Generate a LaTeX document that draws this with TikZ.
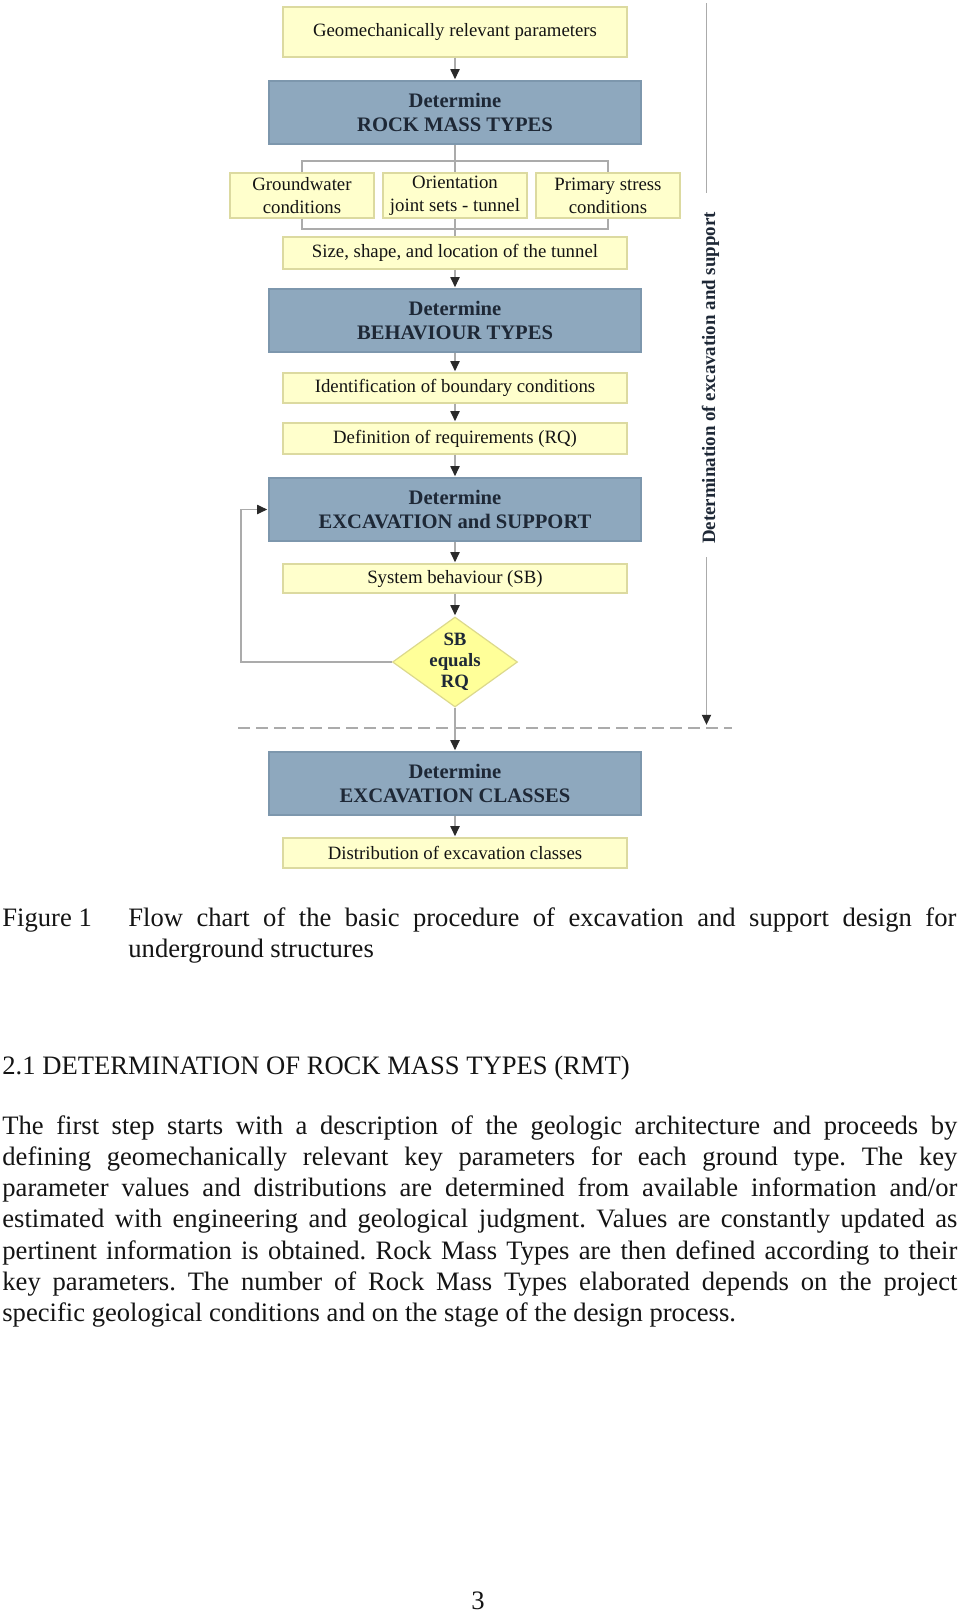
\documentclass[tikz,border=0pt]{standalone}
\usepackage{fontspec}
\setmainfont{Liberation Serif}
\usetikzlibrary{arrows.meta,shapes.geometric}
\definecolor{yfill}{HTML}{FFFFCC}
\definecolor{yline}{HTML}{DCDAA0}
\definecolor{dfill}{HTML}{8EA8BE}
\definecolor{dline}{HTML}{7D97AD}
\definecolor{dtext}{HTML}{1E2836}
\definecolor{conncol}{HTML}{ABABAB}
\definecolor{tipcol}{HTML}{2A2A2A}
\definecolor{decfill}{HTML}{FFFF99}
\definecolor{decline}{HTML}{DCD98C}
\newcommand{\bodysize}{\fontsize{13.3}{15.4}\selectfont}
\frenchspacing
\begin{document}
\begin{tikzpicture}[x=0.5pt,y=-0.5pt,
  ybox/.style={draw=yline, fill=yfill, line width=0.6pt, inner sep=0pt, align=center,
    font=\fontsize{9.4}{11.5}\selectfont, text=black!92},
  widebox/.style={ybox, minimum width=172pt},
  smallbox/.style={ybox, minimum width=72pt, minimum height=22.5pt},
  dbox/.style={draw=dline, fill=dfill, line width=0.6pt, inner sep=0pt, align=center,
    minimum width=186pt, minimum height=31.5pt,
    font=\bfseries\fontsize{10.3}{12}\selectfont, text=dtext},
  decbox/.style={diamond, draw=decline, fill=decfill, line width=0.6pt, inner sep=0pt,
    minimum width=62.5pt, minimum height=45pt},
  conn/.style={draw=conncol, line width=0.6pt},
  arr/.style={conn, shorten >=0.6pt, -{Triangle[width=4.6pt,length=5pt,color=tipcol]}},
  txt/.style={inner sep=0pt, anchor=base west, font=\bodysize, text=black!92},
]
\useasboundingbox (0,0) rectangle (960,1612);
\fill[white] (0,0) rectangle (960,1612);

% ---- flow chart ----
\node[widebox, minimum height=25pt] (geo) at (455,32) {Geomechanically relevant parameters};
\node[dbox] (rmt) at (455,112.5) {Determine\\ROCK MASS TYPES};
\node[smallbox] (gw) at (302,195.5) {Groundwater\\conditions};
\node[smallbox] (ori) at (455,195.5) {Orientation\\joint sets - tunnel};
\node[smallbox] (pri) at (608,195.5) {Primary stress\\conditions};
\node[widebox, minimum height=16pt] (size) at (455,253) {Size, shape, and location of the tunnel};
\node[dbox] (beh) at (455,320.5) {Determine\\BEHAVIOUR TYPES};
\node[widebox, minimum height=15pt] (ident) at (455,388) {Identification of boundary conditions};
\node[widebox, minimum height=15.5pt] (def) at (455,438.5) {Definition of requirements (RQ)};
\node[dbox] (exs) at (455,509.5) {Determine\\EXCAVATION and SUPPORT};
\node[widebox, minimum height=14.5pt] (sb) at (455,578.5) {System behaviour (SB)};
\node[decbox, label={[font=\bfseries\fontsize{9.4}{10.5}\selectfont, text=dtext, align=center]center:SB\\equals\\RQ}] (dec) at (455,662) {};
\node[dbox] (cls) at (455,783.5) {Determine\\EXCAVATION CLASSES};
\node[widebox, minimum height=15pt] (dist) at (455,853) {Distribution of excavation classes};

\coordinate (bt) at (455,161);
\coordinate (bb) at (455,229);
\coordinate (fbc) at (241,662);

\draw[arr] (geo) -- (rmt);
\draw[conn] (rmt.south) -- (ori.north);
\draw[conn] (gw.north) |- (bt) -| (pri.north);
\draw[conn] (gw.south) |- (bb) -| (pri.south);
\draw[conn] (ori.south) -- (size.north);
\draw[arr] (size) -- (beh);
\draw[arr] (beh) -- (ident);
\draw[arr] (ident) -- (def);
\draw[arr] (def) -- (exs);
\draw[arr] (exs) -- (sb);
\draw[arr] (sb) -- (dec);
\draw[arr] (dec) -- (cls);
\draw[arr] (cls) -- (dist);
\draw[arr] (dec.west) -- (fbc) |- (exs.west);

% dashed separation line
\coordinate (dl) at (238,728);
\coordinate (dr) at (732,728);
\draw[conn, dash pattern=on 6pt off 3pt] (dl) -- (dr);

% right-hand vertical arrow with label
\coordinate (vtop) at (706.5,3);
\coordinate (va) at (706.5,193);
\coordinate (vb) at (706.5,557);
\coordinate (vend) at (706.5,726);
\node[rotate=90, anchor=base, inner sep=0pt, font=\bfseries\fontsize{9.45}{11}\selectfont, text=dtext] (vlab) at (715,378) {Determination of excavation and support};
\draw[conn] (vtop) -- (va);
\draw[arr] (vb) -- (vend);

% ---- caption ----
\node[txt] (figlab) at (2,926) {Figure 1};
\node[txt] (cap1) at (128,926) {\makebox[414pt][s]{Flow chart of the basic procedure of excavation and support design for}};
\node[txt] (cap2) at (128,957) {underground structures};

% ---- section text ----
\node[txt] (head) at (2,1074) {2.1 DETERMINATION OF ROCK MASS TYPES (RMT)};
\node[txt] (l1) at (2,1134) {\makebox[477.5pt][s]{The first step starts with a description of the geologic architecture and proceeds by}};
\node[txt] (l2) at (2,1165.3) {\makebox[477.5pt][s]{defining geomechanically relevant key parameters for each ground type. The key}};
\node[txt] (l3) at (2,1196.6) {\makebox[477.5pt][s]{parameter values and distributions are determined from available information and/or}};
\node[txt] (l4) at (2,1227.9) {\makebox[477.5pt][s]{estimated with engineering and geological judgment. Values are constantly updated as}};
\node[txt] (l5) at (2,1259.2) {\makebox[477.5pt][s]{pertinent information is obtained. Rock Mass Types are then defined according to their}};
\node[txt] (l6) at (2,1290.5) {\makebox[477.5pt][s]{key parameters. The number of Rock Mass Types elaborated depends on the project}};
\node[txt] (l7) at (2,1321.8) {specific geological conditions and on the stage of the design process.};

\node[inner sep=0pt, anchor=base, font=\bodysize, text=black!92] (pnum) at (478,1609) {3};
\end{tikzpicture}
\end{document}
